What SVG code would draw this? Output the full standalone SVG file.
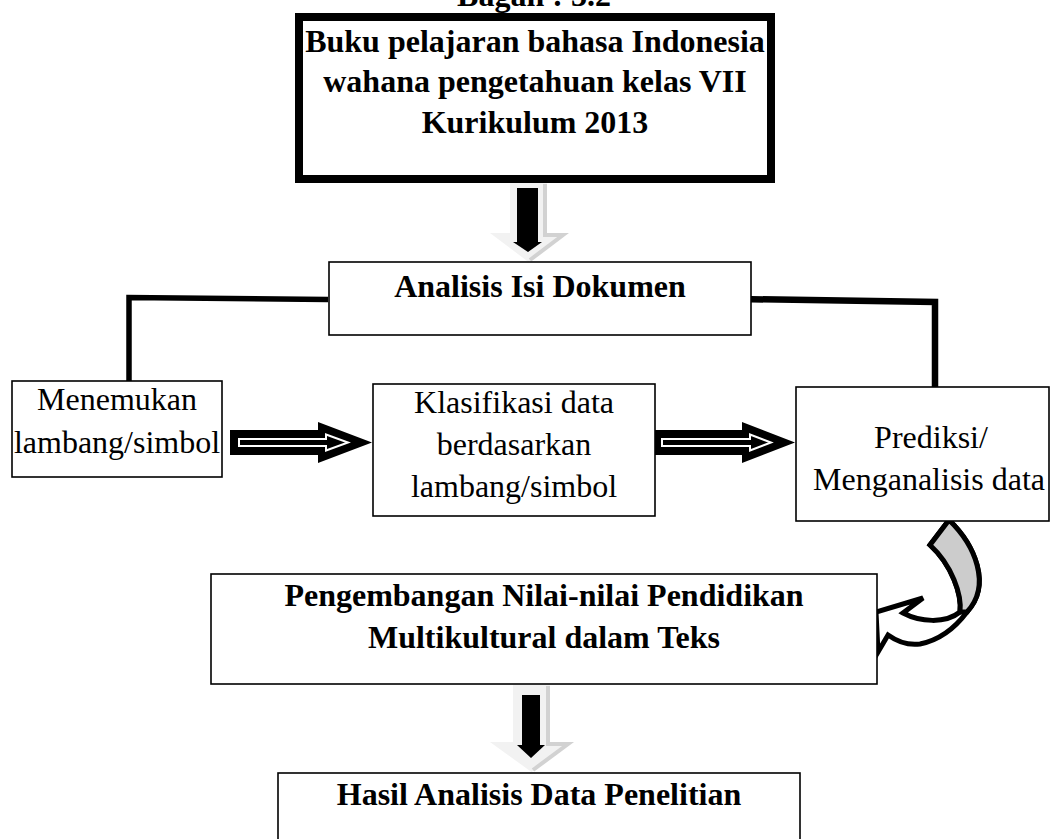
<svg xmlns="http://www.w3.org/2000/svg" width="1051" height="839" viewBox="0 0 1051 839">
<style>
.box{fill:#fff;stroke:#000;stroke-width:1.6}
.t{font-family:"Liberation Serif","Times New Roman",serif;font-size:32px;fill:#000;text-anchor:middle}
.b{font-weight:bold}
.conn{fill:none;stroke:#000;stroke-linecap:butt;stroke-linejoin:miter}
.blk{fill:#000}
.inner{fill:#000;stroke:#fff;stroke-width:2}
.gr{fill:#f2f2f2}
.grs{fill:none;stroke:#d2d2d2;stroke-width:4}
.curve{stroke:#000;stroke-width:5;stroke-linejoin:miter}
</style>
<rect width="1051" height="839" fill="#fff"/>
<text class="t b" x="534" y="6">Bagan : 3.2</text>

<g id="connectors">
  <polyline class="conn" stroke-width="5.5" points="328,299.5 129,297.5 129,381"/>
  <polyline class="conn" stroke-width="6.5" points="739,299 935,302 935,387"/>
  <g id="arrow-down-1">
    <polygon class="gr" points="510,183 547,183 547,233 567,233 528.5,262 490,233 510,233"/>
    <polyline class="grs" points="545,184 545,235 563,235 530,260"/>
    <polygon class="blk" points="517,188 538,188 538,242 542,242 528,252 513,242 517,242"/>
  </g>
  <g id="arrow-right-1">
    <polygon class="blk" points="230,430 318,430 318,422 372,442.5 318,463 318,455 230,455"/>
    <polygon class="inner" points="239,439 326,439 326,434.5 348,442.5 326,450.5 326,446 239,446"/>
  </g>
  <g id="arrow-right-2">
    <polygon class="blk" points="653,430 742,430 742,422 795,442.5 742,463 742,455 653,455"/>
    <polygon class="inner" points="662,439 750,439 750,434.5 771,442.5 750,450.5 750,446 662,446"/>
  </g>
  <g id="arrow-curved">
    <path class="curve" fill="#fff" d="M 949 520 C 975 545, 992 585, 967 612 C 955 628, 940 640, 920 644 C 905 646, 895 640, 888 635 L 878 652 L 876 612 L 923 598 L 903 613 C 920 622, 945 624, 960 612 C 962 595, 952 565, 930 545 Z"/>
    <path class="curve" fill="#cccccc" d="M 949 520 C 975 545, 992 585, 967 612 L 960 612 C 962 595, 952 565, 930 545 Z"/>
  </g>
  <g id="arrow-down-2">
    <polygon class="gr" points="513,685 550,685 550,742 573,742 531.5,772 490,742 513,742"/>
    <polyline class="grs" points="548,686 548,744 568,744 533,770"/>
    <polygon class="blk" points="522,695 540,695 540,745 545,745 531,758 517,745 522,745"/>
  </g>
</g>

<g id="node-buku">
  <rect x="299" y="17" width="472" height="162" fill="#fff" stroke="#000" stroke-width="8"/>
  <text class="t b" x="535" y="52">Buku pelajaran bahasa Indonesia</text>
  <text class="t b" x="535" y="92">wahana pengetahuan kelas VII</text>
  <text class="t b" x="535" y="133">Kurikulum 2013</text>
</g>

<g id="node-analisis">
  <rect class="box" x="329" y="262" width="422" height="73"/>
  <text class="t b" x="540" y="297">Analisis Isi Dokumen</text>
</g>

<g id="node-menemukan">
  <rect class="box" x="12" y="381" width="210" height="96"/>
  <text class="t" x="117" y="410">Menemukan</text>
  <text class="t" x="117" y="453">lambang/simbol</text>
</g>

<g id="node-klasifikasi">
  <rect class="box" x="373" y="384" width="282" height="132"/>
  <text class="t" x="514" y="413">Klasifikasi data</text>
  <text class="t" x="514" y="455">berdasarkan</text>
  <text class="t" x="514" y="497">lambang/simbol</text>
</g>

<g id="node-prediksi">
  <rect class="box" x="796" y="387" width="253" height="134"/>
  <text class="t" x="931" y="448">Prediksi/</text>
  <text class="t" x="929" y="490">Menganalisis data</text>
</g>

<g id="node-pengembangan">
  <rect class="box" x="211" y="574" width="666" height="110"/>
  <text class="t b" x="544" y="606">Pengembangan Nilai-nilai Pendidikan</text>
  <text class="t b" x="544" y="648">Multikultural dalam Teks</text>
</g>

<g id="node-hasil">
  <rect class="box" x="278" y="773" width="522" height="80"/>
  <text class="t b" x="539" y="805">Hasil Analisis Data Penelitian</text>
</g>
</svg>
